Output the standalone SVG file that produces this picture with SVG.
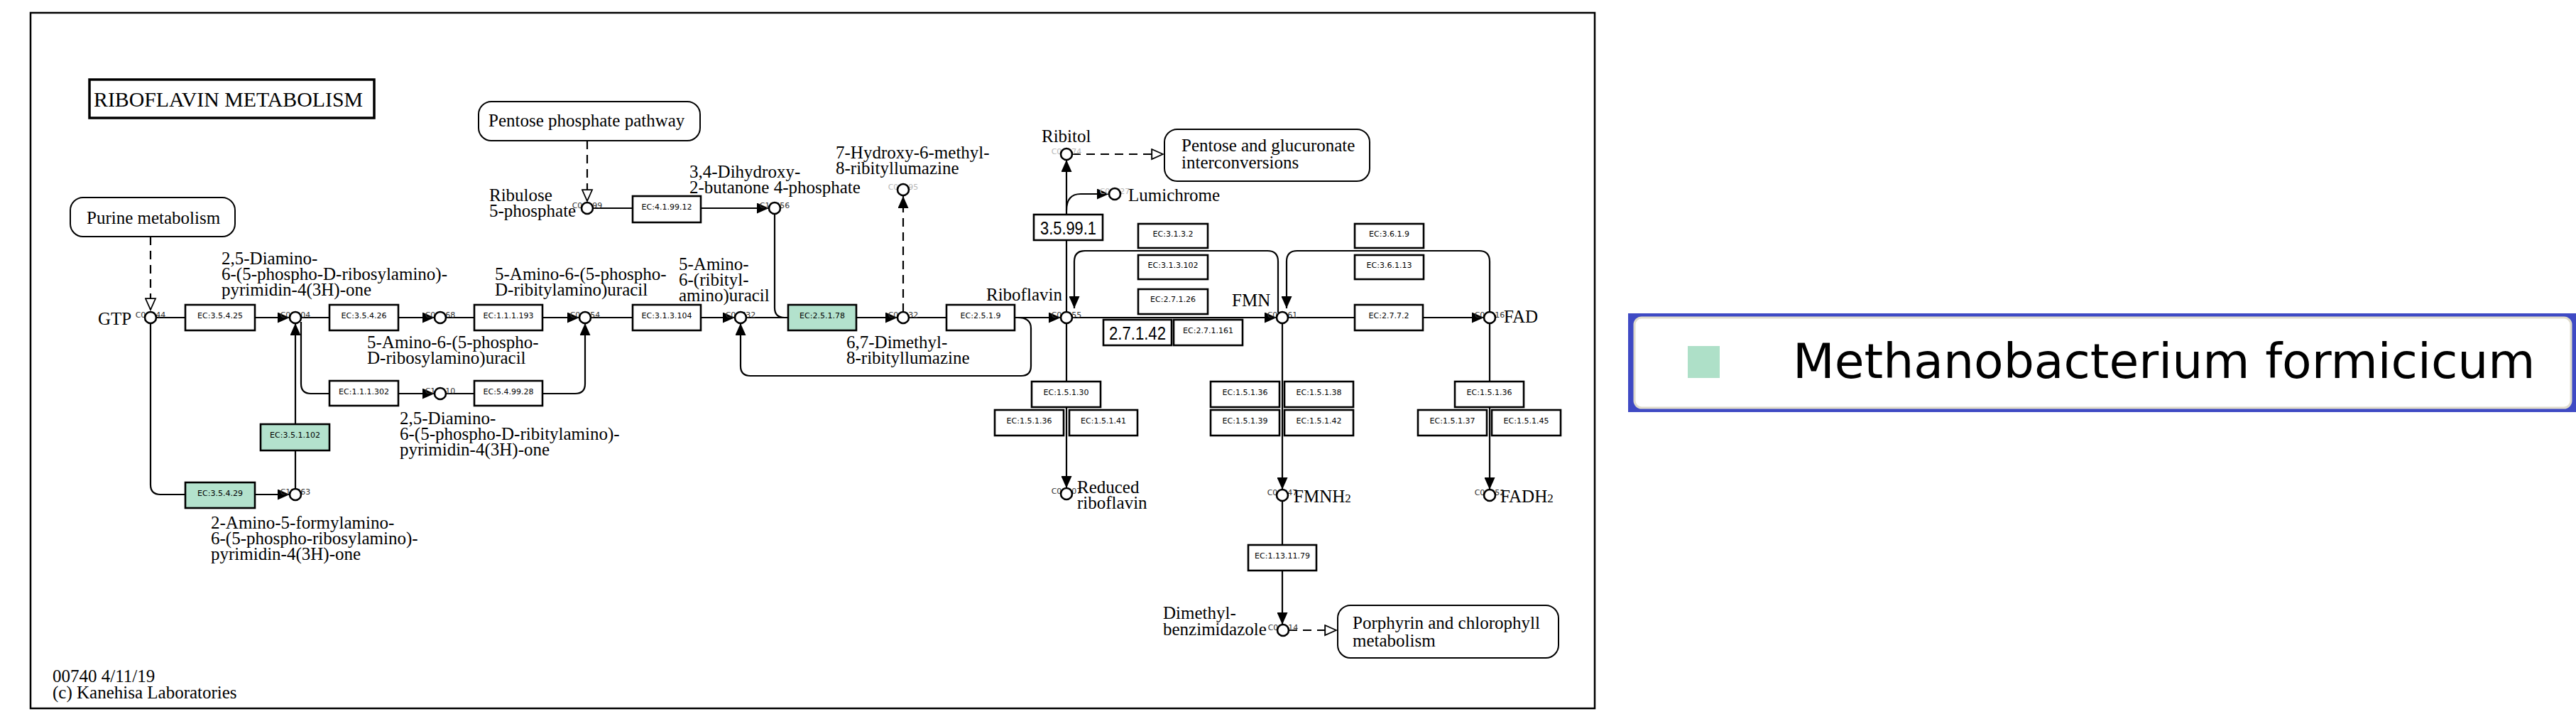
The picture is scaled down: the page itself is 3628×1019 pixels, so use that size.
<svg xmlns="http://www.w3.org/2000/svg" width="3628" height="1019" viewBox="0 0 3628 1019">
<defs>
<style>
.frame{fill:#fff;stroke:#000;stroke-width:2.5}
.ln{fill:none;stroke:#000;stroke-width:2.2}
.dash{stroke-dasharray:12 8}
.ec rect{fill:#fff;stroke:#000;stroke-width:2.6}
.ec.hit rect{fill:#b3e2cd}
.ec text{font-family:"DejaVu Sans",sans-serif;font-size:11px;text-anchor:middle;fill:#000}
.ec.big text{font-family:"Liberation Sans",sans-serif;font-size:26px}
.cpd circle{fill:#fff;stroke:#000;stroke-width:2.6}
.cid{font-family:"DejaVu Sans",sans-serif;font-size:11px;text-anchor:middle;fill:#333}
.cid.lt{fill:#b8b8b8}
.lbl{font-family:"Liberation Serif",serif;font-size:25px;fill:#000}
.map rect{fill:#fff;stroke:#000;stroke-width:2}
</style>
<marker id="ah" viewBox="0 0 10 10" markerUnits="userSpaceOnUse" markerWidth="17" markerHeight="15" refX="10" refY="5" orient="auto" preserveAspectRatio="none"><path d="M0,0L10,5L0,10z" fill="#000" stroke="none"/></marker>
<marker id="oh" viewBox="-1 -1 12 12" markerUnits="userSpaceOnUse" markerWidth="19" markerHeight="17" refX="10" refY="5" orient="auto" preserveAspectRatio="none"><path d="M0,0L10,5L0,10z" fill="#fff" stroke="#000" stroke-width="1.2" stroke-dasharray="none"/></marker>
</defs>

<rect class="frame" x="43" y="18" width="2203" height="979"/>

<g id="title">
<rect x="126" y="112" width="401" height="54" fill="#fff" stroke="#000" stroke-width="3.5"/>
<text x="132" y="150" font-family="Liberation Serif, serif" font-size="29" textLength="379" lengthAdjust="spacingAndGlyphs">RIBOFLAVIN METABOLISM</text>
</g>

<g id="connectors">
<path class="ln dash" d="M212,333 L212,436" marker-end="url(#oh)"/>
<path class="ln dash" d="M827,198 L827,283" marker-end="url(#oh)"/>
<path class="ln dash" d="M1510,217 L1638,217" marker-end="url(#oh)"/>
<path class="ln dash" d="M1815,887 L1882,887" marker-end="url(#oh)"/>
<path class="ln dash" d="M1272,439 L1272,276" marker-end="url(#ah)"/>
<path class="ln" d="M220,447 L408,447" marker-end="url(#ah)"/>
<path class="ln" d="M424,447 L612,447" marker-end="url(#ah)"/>
<path class="ln" d="M628,447 L816,447" marker-end="url(#ah)"/>
<path class="ln" d="M832,447 L1035,447" marker-end="url(#ah)"/>
<path class="ln" d="M1051,447 L1264,447" marker-end="url(#ah)"/>
<path class="ln" d="M1280,447 L1494,447" marker-end="url(#ah)"/>
<path class="ln" d="M1510,447 L1798,447" marker-end="url(#ah)"/>
<path class="ln" d="M1814,447 L2090,447" marker-end="url(#ah)"/>
<path class="ln" d="M835,293 L1083,293" marker-end="url(#ah)"/>
<path class="ln" d="M212,455 L212,682 Q212,696 226,696 L408,696" marker-end="url(#ah)"/>
<path class="ln" d="M416,688 L416,455" marker-end="url(#ah)"/>
<path class="ln" d="M424,453 L424,540 Q424,554 438,554 L612,554" marker-end="url(#ah)"/>
<path class="ln" d="M628,554 L810,554 Q824,554 824,540 L824,455" marker-end="url(#ah)"/>
<path class="ln" d="M1091,301 L1091,433 Q1091,447 1105,447 L1110,447"/>
<path class="ln" d="M1433,447 Q1452,447 1452,462 L1452,515 Q1452,529 1438,529 L1057,529 Q1043,529 1043,515 L1043,455" marker-end="url(#ah)"/>
<path class="ln" d="M1502,439 L1502,225" marker-end="url(#ah)"/>
<path class="ln" d="M1502,296 Q1502,273 1522,273 L1562,273" marker-end="url(#ah)"/>
<path class="ln" d="M1800,440 L1800,368 Q1800,353 1785,353 L1528,353 Q1513,353 1513,368 L1513,434" marker-end="url(#ah)"/>
<path class="ln" d="M2098,439 L2098,368 Q2098,353 2083,353 L1827,353 Q1812,353 1812,368 L1812,434" marker-end="url(#ah)"/>
<path class="ln" d="M1502,455 L1502,687" marker-end="url(#ah)"/>
<path class="ln" d="M1806,455 L1806,689" marker-end="url(#ah)"/>
<path class="ln" d="M1806,705 L1806,879" marker-end="url(#ah)"/>
<path class="ln" d="M2098,455 L2098,689" marker-end="url(#ah)"/>
</g>

<g id="map-purine" class="map"><rect x="99" y="278" width="232" height="55" rx="18"/><text class="lbl" x="122" y="315">Purine metabolism</text></g>
<g id="map-pentose-phosphate" class="map"><rect x="674" y="143" width="312" height="55" rx="18"/><text class="lbl" x="688" y="178">Pentose phosphate pathway</text></g>
<g id="map-pentose-glucuronate" class="map"><rect x="1640" y="182" width="289" height="73" rx="18"/><text class="lbl" x="1664" y="213">Pentose and glucuronate</text><text class="lbl" x="1664" y="237">interconversions</text></g>
<g id="map-porphyrin" class="map"><rect x="1884" y="852" width="311" height="74" rx="18"/><text class="lbl" x="1905" y="885">Porphyrin and chlorophyll</text><text class="lbl" x="1905" y="910">metabolism</text></g>

<g id="ec-3.5.4.25" class="ec"><rect x="261" y="429" width="98" height="36"/><text x="310" y="448">EC:3.5.4.25</text></g>
<g id="ec-3.5.4.26" class="ec"><rect x="464" y="429" width="97" height="36"/><text x="512.5" y="448">EC:3.5.4.26</text></g>
<g id="ec-1.1.1.193" class="ec"><rect x="668" y="429" width="96" height="36"/><text x="716" y="448">EC:1.1.1.193</text></g>
<g id="ec-3.1.3.104" class="ec"><rect x="891" y="429" width="96" height="36"/><text x="939" y="448">EC:3.1.3.104</text></g>
<g id="ec-2.5.1.78" class="ec hit"><rect x="1110" y="429" width="96" height="36"/><text x="1158" y="448">EC:2.5.1.78</text></g>
<g id="ec-2.5.1.9" class="ec"><rect x="1333" y="429" width="96" height="36"/><text x="1381" y="448">EC:2.5.1.9</text></g>
<g id="ec-2.7.7.2" class="ec"><rect x="1908" y="429" width="96" height="36"/><text x="1956" y="448">EC:2.7.7.2</text></g>
<g id="ec-4.1.99.12" class="ec"><rect x="891" y="276" width="96" height="37"/><text x="939" y="295">EC:4.1.99.12</text></g>
<g id="ec-1.1.1.302" class="ec"><rect x="464" y="536" width="97" height="35"/><text x="512.5" y="555">EC:1.1.1.302</text></g>
<g id="ec-5.4.99.28" class="ec"><rect x="668" y="536" width="96" height="35"/><text x="716" y="555">EC:5.4.99.28</text></g>
<g id="ec-3.5.1.102" class="ec hit"><rect x="367" y="597" width="97" height="37"/><text x="415.5" y="616">EC:3.5.1.102</text></g>
<g id="ec-3.5.4.29" class="ec hit"><rect x="261" y="679" width="98" height="36"/><text x="310" y="698">EC:3.5.4.29</text></g>
<g id="ec-3.1.3.2" class="ec"><rect x="1603" y="315" width="98" height="34"/><text x="1652" y="333">EC:3.1.3.2</text></g>
<g id="ec-3.1.3.102" class="ec"><rect x="1603" y="359" width="98" height="34"/><text x="1652" y="377">EC:3.1.3.102</text></g>
<g id="ec-2.7.1.26" class="ec"><rect x="1603" y="407" width="98" height="35"/><text x="1652" y="425">EC:2.7.1.26</text></g>
<g id="ec-2.7.1.42" class="ec big"><rect x="1554" y="450" width="96" height="36"/><text x="1602" y="478" textLength="80" lengthAdjust="spacingAndGlyphs">2.7.1.42</text></g>
<g id="ec-2.7.1.161" class="ec"><rect x="1653" y="450" width="97" height="36"/><text x="1701.5" y="469">EC:2.7.1.161</text></g>
<g id="ec-3.6.1.9" class="ec"><rect x="1908" y="315" width="97" height="34"/><text x="1956.5" y="333">EC:3.6.1.9</text></g>
<g id="ec-3.6.1.13" class="ec"><rect x="1908" y="359" width="97" height="34"/><text x="1956.5" y="377">EC:3.6.1.13</text></g>
<g id="ec-3.5.99.1" class="ec big"><rect x="1456" y="302" width="97" height="36"/><text x="1504.5" y="330" textLength="79" lengthAdjust="spacingAndGlyphs">3.5.99.1</text></g>
<g id="ec-1.5.1.30" class="ec"><rect x="1453" y="537" width="97" height="36"/><text x="1501.5" y="556">EC:1.5.1.30</text></g>
<g id="ec-1.5.1.36-a" class="ec"><rect x="1401" y="577" width="97" height="36"/><text x="1449.5" y="596">EC:1.5.1.36</text></g>
<g id="ec-1.5.1.41" class="ec"><rect x="1506" y="577" width="96" height="36"/><text x="1554" y="596">EC:1.5.1.41</text></g>
<g id="ec-1.5.1.36-b" class="ec"><rect x="1705" y="537" width="97" height="36"/><text x="1753.5" y="556">EC:1.5.1.36</text></g>
<g id="ec-1.5.1.38" class="ec"><rect x="1809" y="537" width="97" height="36"/><text x="1857.5" y="556">EC:1.5.1.38</text></g>
<g id="ec-1.5.1.39" class="ec"><rect x="1705" y="577" width="97" height="36"/><text x="1753.5" y="596">EC:1.5.1.39</text></g>
<g id="ec-1.5.1.42" class="ec"><rect x="1809" y="577" width="97" height="36"/><text x="1857.5" y="596">EC:1.5.1.42</text></g>
<g id="ec-1.5.1.36-c" class="ec"><rect x="2049" y="537" width="97" height="36"/><text x="2097.5" y="556">EC:1.5.1.36</text></g>
<g id="ec-1.5.1.37" class="ec"><rect x="1997" y="577" width="97" height="36"/><text x="2045.5" y="596">EC:1.5.1.37</text></g>
<g id="ec-1.5.1.45" class="ec"><rect x="2101" y="577" width="97" height="36"/><text x="2149.5" y="596">EC:1.5.1.45</text></g>
<g id="ec-1.13.11.79" class="ec"><rect x="1758" y="767" width="96" height="36"/><text x="1806" y="786">EC:1.13.11.79</text></g>

<g id="C00044" class="cpd"><text class="cid" x="212" y="447">C00044</text><circle cx="212" cy="447" r="8"/><text class="lbl" x="138" y="457">GTP</text></g>
<g id="C01304" class="cpd"><text class="cid" x="416" y="447">C01304</text><circle cx="416" cy="447" r="8"/><text class="lbl" x="312" y="372">2,5-Diamino-</text><text class="lbl" x="312" y="394">6-(5-phospho-D-ribosylamino)-</text><text class="lbl" x="312" y="416">pyrimidin-4(3H)-one</text></g>
<g id="C01268" class="cpd"><text class="cid" x="620" y="447">C01268</text><circle cx="620" cy="447" r="8"/><text class="lbl" x="517" y="490">5-Amino-6-(5-phospho-</text><text class="lbl" x="517" y="512">D-ribosylamino)uracil</text></g>
<g id="C04454" class="cpd"><text class="cid" x="824" y="447">C04454</text><circle cx="824" cy="447" r="8"/><text class="lbl" x="697" y="394">5-Amino-6-(5-phospho-</text><text class="lbl" x="697" y="416">D-ribitylamino)uracil</text></g>
<g id="C04732" class="cpd"><text class="cid" x="1043" y="447">C04732</text><circle cx="1043" cy="447" r="8"/><text class="lbl" x="956" y="380">5-Amino-</text><text class="lbl" x="956" y="402">6-(ribityl-</text><text class="lbl" x="956" y="424">amino)uracil</text></g>
<g id="C04332" class="cpd"><text class="cid" x="1272" y="447">C04332</text><circle cx="1272" cy="447" r="8"/><text class="lbl" x="1192" y="490">6,7-Dimethyl-</text><text class="lbl" x="1192" y="512">8-ribityllumazine</text></g>
<g id="C00255" class="cpd"><text class="cid" x="1502" y="447">C00255</text><circle cx="1502" cy="447" r="8"/><text class="lbl" x="1389" y="423">Riboflavin</text></g>
<g id="C00061" class="cpd"><text class="cid" x="1806" y="447">C00061</text><circle cx="1806" cy="447" r="8"/><text class="lbl" x="1735" y="431">FMN</text></g>
<g id="C00016" class="cpd"><text class="cid" x="2098" y="447">C00016</text><circle cx="2098" cy="447" r="8"/><text class="lbl" x="2118" y="454">FAD</text></g>
<g id="C15563" class="cpd"><text class="cid" x="416" y="696">C15563</text><circle cx="416" cy="696" r="8"/><text class="lbl" x="297" y="744">2-Amino-5-formylamino-</text><text class="lbl" x="297" y="766">6-(5-phospho-ribosylamino)-</text><text class="lbl" x="297" y="788">pyrimidin-4(3H)-one</text></g>
<g id="C18910" class="cpd"><text class="cid" x="620" y="554">C18910</text><circle cx="620" cy="554" r="8"/><text class="lbl" x="563" y="597">2,5-Diamino-</text><text class="lbl" x="563" y="619">6-(5-phospho-D-ribitylamino)-</text><text class="lbl" x="563" y="641">pyrimidin-4(3H)-one</text></g>
<g id="C00199" class="cpd"><text class="cid" x="827" y="293">C00199</text><circle cx="827" cy="293" r="8"/><text class="lbl" x="689" y="283">Ribulose</text><text class="lbl" x="689" y="305">5-phosphate</text></g>
<g id="C15556" class="cpd"><text class="cid" x="1091" y="293">C15556</text><circle cx="1091" cy="293" r="8"/><text class="lbl" x="971" y="250">3,4-Dihydroxy-</text><text class="lbl" x="971" y="272">2-butanone 4-phosphate</text></g>
<g id="C04395" class="cpd"><text class="cid lt" x="1272" y="267">C04395</text><circle cx="1272" cy="267" r="8"/><text class="lbl" x="1177" y="223">7-Hydroxy-6-methyl-</text><text class="lbl" x="1177" y="245">8-ribityllumazine</text></g>
<g id="C00474" class="cpd"><text class="cid lt" x="1502" y="217">C00474</text><circle cx="1502" cy="217" r="8"/><text class="lbl" x="1467" y="200">Ribitol</text></g>
<g id="C01727" class="cpd"><text class="cid lt" x="1570" y="273">C01727</text><circle cx="1570" cy="273" r="8"/><text class="lbl" x="1589" y="283">Lumichrome</text></g>
<g id="C01007" class="cpd"><text class="cid" x="1502" y="695">C01007</text><circle cx="1502" cy="695" r="8"/><text class="lbl" x="1517" y="694">Reduced</text><text class="lbl" x="1517" y="716">riboflavin</text></g>
<g id="C01847" class="cpd"><text class="cid" x="1806" y="697">C01847</text><circle cx="1806" cy="697" r="8"/><text class="lbl" x="1822" y="707">FMNH<tspan font-size="17">2</tspan></text></g>
<g id="C01352" class="cpd"><text class="cid" x="2098" y="697">C01352</text><circle cx="2098" cy="697" r="8"/><text class="lbl" x="2113" y="707">FADH<tspan font-size="17">2</tspan></text></g>
<g id="C03114" class="cpd"><text class="cid" x="1807" y="887">C03114</text><circle cx="1807" cy="887" r="8"/><text class="lbl" x="1638" y="871">Dimethyl-</text><text class="lbl" x="1638" y="894">benzimidazole</text></g>

<g id="footer">
<text class="lbl" x="74" y="960">00740 4/11/19</text>
<text class="lbl" x="74" y="983">(c) Kanehisa Laboratories</text>
</g>

<g id="legend">
<rect x="2293" y="441" width="1340" height="139" fill="#3f4ac4"/>
<rect x="2302" y="447" width="1319" height="127" rx="10" fill="#fff" stroke="#e0dccc" stroke-width="3"/>
<rect x="2377" y="487" width="45" height="45" fill="#aee0c8"/>
<text x="2525" y="532" font-family="DejaVu Sans, sans-serif" font-size="68" fill="#000">Methanobacterium formicicum</text>
</g>
</svg>
